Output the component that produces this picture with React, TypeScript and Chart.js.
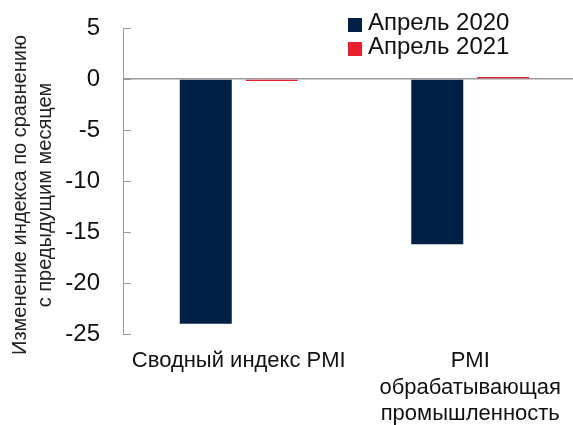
import React, { useEffect, useRef } from "react";
import { Chart, registerables } from "chart.js";

Chart.register(...registerables);

const categories: string[][] = [
  ["Сводный индекс PMI"],
  ["PMI", "обрабатывающая", "промышленность"],
];
const seriesNames = ["Апрель 2020", "Апрель 2021"];
const april2020 = [-24.0, -16.2];
const april2021 = [-0.2, 0.2];
const seriesColors = ["#002145", "#e8202e"];
const yMin = -25;
const yMax = 5;
const yStep = 5;
const yTitleLines = ["Изменение индекса по сравнению", "с предыдущим месяцем"];

const FONT = "'Liberation Sans', Arial, sans-serif";
const AXIS_GRAY = "#9a9a9a";

const innerTicksPlugin = {
  id: "innerTicks",
  afterDatasetsDraw(chart: any) {
    const { ctx, chartArea, scales } = chart;
    const y = scales.y;
    ctx.save();
    ctx.strokeStyle = AXIS_GRAY;
    ctx.lineWidth = 1;
    y.ticks.forEach((t: any) => {
      const py = Math.round(y.getPixelForValue(t.value)) + 0.5;
      ctx.beginPath();
      ctx.moveTo(chartArea.left, py);
      ctx.lineTo(chartArea.left + 8, py);
      ctx.stroke();
    });
    ctx.restore();
  },
};

const yTitlePlugin = {
  id: "yTitleCustom",
  afterDraw(chart: any) {
    const { ctx, chartArea } = chart;
    const cy = (chartArea.top + chartArea.bottom) / 2 + 14;
    ctx.save();
    ctx.fillStyle = "#222";
    ctx.font = `20px ${FONT}`;
    ctx.textAlign = "center";
    ctx.textBaseline = "middle";
    ctx.translate(20.5, cy);
    ctx.rotate(-Math.PI / 2);
    yTitleLines.forEach((line, i) => ctx.fillText(line, 0, i * 25));
    ctx.restore();
  },
};

const legendPlugin = {
  id: "customLegend",
  afterDraw(chart: any) {
    const { ctx } = chart;
    ctx.save();
    ctx.font = `24px ${FONT}`;
    ctx.textBaseline = "middle";
    ctx.textAlign = "left";
    chart.data.datasets.forEach((ds: any, i: number) => {
      const rowY = 23 + i * 24;
      ctx.fillStyle = ds.backgroundColor;
      ctx.fillRect(348, rowY - 5, 14, 14);
      ctx.fillStyle = "#111";
      ctx.fillText(ds.label, 368, rowY);
    });
    ctx.restore();
  },
};

export default function App() {
  const canvasRef = useRef<HTMLCanvasElement | null>(null);

  useEffect(() => {
    if (!canvasRef.current) return;
    const chart = new Chart(canvasRef.current, {
      type: "bar",
      data: {
        labels: categories,
        datasets: [
          {
            label: seriesNames[0],
            data: april2020,
            backgroundColor: seriesColors[0],
          },
          {
            label: seriesNames[1],
            data: april2021,
            backgroundColor: seriesColors[1],
          },
        ],
      },
      options: {
        responsive: false,
        animation: false,
        devicePixelRatio: 1,
        layout: { padding: { top: 28, right: 1, left: 0, bottom: 0 } },
        datasets: {
          bar: { categoryPercentage: 0.57, barPercentage: 0.788 },
        },
        plugins: {
          legend: { display: false },
          tooltip: { enabled: false },
          title: { display: false },
        },
        scales: {
          x: {
            grid: { display: false, drawTicks: false },
            border: { display: false },
            ticks: {
              color: "#111",
              font: { family: FONT, size: 22, lineHeight: 1.2 },
              padding: 14,
              maxRotation: 0,
              autoSkip: false,
            },
            afterFit(scale: any) {
              scale.height = 91;
              scale.paddingLeft = 0;
              scale.paddingRight = 0;
            },
          },
          y: {
            min: yMin,
            max: yMax,
            ticks: {
              stepSize: yStep,
              color: "#111",
              font: { family: FONT, size: 24 },
              padding: 23,
              autoSkip: false,
            },
            grid: {
              drawTicks: false,
              color: (c: any) => (c.tick && c.tick.value === 0 ? AXIS_GRAY : "rgba(0,0,0,0)"),
              lineWidth: (c: any) => (c.tick && c.tick.value === 0 ? 1.5 : 0),
            },
            border: { display: true, color: AXIS_GRAY, width: 1 },
            afterFit(scale: any) {
              scale.width = 123;
              scale.paddingTop = 0;
              scale.paddingBottom = 0;
            },
          },
        },
      },
      plugins: [innerTicksPlugin, yTitlePlugin, legendPlugin],
    });
    return () => chart.destroy();
  }, []);

  return (
    <div
      style={{
        position: "absolute",
        left: 0,
        top: 0,
        width: 573,
        height: 425,
        overflow: "hidden",
        background: "#fff",
      }}
    >
      <canvas ref={canvasRef} width={587} height={425} />
    </div>
  );
}
